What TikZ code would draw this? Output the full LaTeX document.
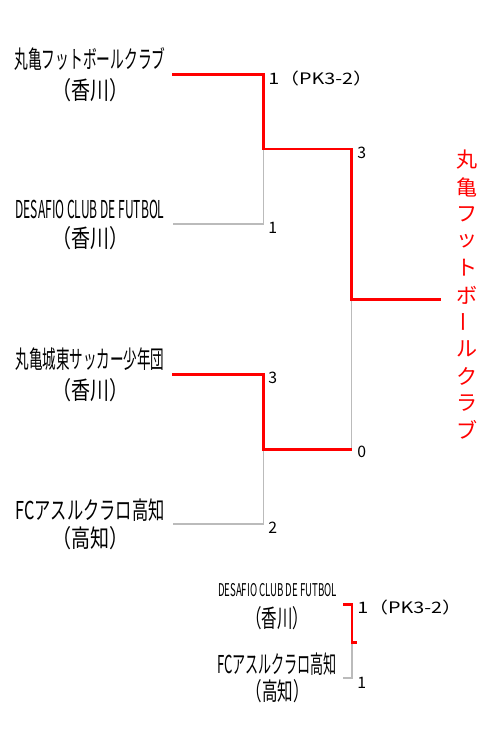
\documentclass[tikz,border=0pt]{standalone}
\usepackage{fontspec}
\usepackage{graphicx}
\setmainfont{Noto Sans CJK JP}
\definecolor{wonred}{HTML}{FF0000}
\definecolor{lostgray}{HTML}{BBBBBB}
\newlength{\px}
\setlength{\px}{0.02cm}
\newcommand{\squeeze}[2]{\resizebox{#1\px}{\height}{#2}}

\begin{document}
\begin{tikzpicture}[x=0.02cm, y=-0.02cm,
    team/.style={inner sep=0pt, font=\fontsize{14}{16}\selectfont},
    smallteam/.style={inner sep=0pt, font=\fontsize{10}{12}\selectfont},
    score/.style={inner sep=0pt, anchor=west, font=\fontsize{9}{11}\selectfont},
    won/.style={draw=wonred, line width=1.7pt},
    lost/.style={draw=lostgray, line width=1.1pt},
    winchar/.style={inner sep=0pt, text=wonred, font=\fontsize{12}{14}\selectfont}]

    \useasboundingbox (0,0) rectangle (500,750);

    % Teams
    \node[team] (t1) at (90,59) {\squeeze{151}{丸亀フットボールクラブ}};
    \node[team] (t1p) at (90,90) {\squeeze{76}{（香川）}};
    \node[team] (t2) at (90,209) {\squeeze{149}{DESAFIO CLUB DE FUTBOL}};
    \node[team] (t2p) at (90,238) {\squeeze{76}{（香川）}};
    \node[team] (t3) at (90,359) {\squeeze{149}{丸亀城東サッカー少年団}};
    \node[team] (t3p) at (90,390) {\squeeze{76}{（香川）}};
    \node[team] (t4) at (90,510) {\squeeze{149}{FCアスルクラロ高知}};
    \node[team] (t4p) at (90,538) {\squeeze{76}{（高知）}};

    % Bracket points
    \coordinate (r1) at (172,74.5);
    \coordinate (r1c) at (263.5,74.5);
    \coordinate (s1) at (263.5,149);
    \coordinate (r2c) at (263.5,224);
    \coordinate (r2) at (173,224);
    \coordinate (r3) at (172,374.5);
    \coordinate (r3c) at (263.5,374.5);
    \coordinate (s2) at (263.5,449.5);
    \coordinate (r4c) at (263.5,524);
    \coordinate (r4) at (173,524);
    \coordinate (f1) at (351.5,149);
    \coordinate (fm) at (351.5,299.5);
    \coordinate (f2) at (351.5,449.5);
    \coordinate (champ) at (441,299.5);

    % Losers
    \draw[lost] (s1) -- (r2c) -- (r2);
    \draw[lost] (s2) -- (r4c) -- (r4);
    \draw[lost] (fm) -- (f2);

    % Winners
    \draw[won] (r1) -- (r1c) -- (s1) -- (f1) -- (fm) -- (champ);
    \draw[won] (r3) -- (r3c) -- (s2) -- (f2);

    % Scores
    \node[score] (sc1) at (268,78) {\scalebox{1.25}[1]{1（PK3-2）}};
    \node[score] (sc2) at (268,228) {1};
    \node[score] (sc3) at (268,378) {3};
    \node[score] (sc4) at (268,528) {2};
    \node[score] (sc5) at (357,152.5) {3};
    \node[score] (sc6) at (357,452) {0};

    % Champion
    \foreach \ch/\rot [count=\i from 0] in {丸/0,亀/0,フ/0,ッ/0,ト/0,ボ/0,ー/90,ル/0,ク/0,ラ/0,ブ/0}
        \node[winchar, rotate=\rot] (win\i) at (467,160+27*\i) {\ch};

    % Third place
    \node[smallteam] (b1) at (277.5,590) {\squeeze{119}{DESAFIO CLUB DE FUTBOL}};
    \node[team] (b1p) at (277,618) {\squeeze{62}{（香川）}};
    \node[team] (b2) at (277,664) {\squeeze{120}{FCアスルクラロ高知}};
    \node[team] (b2p) at (277.5,691) {\squeeze{62}{（高知）}};

    \coordinate (p1) at (343,604);
    \coordinate (p1c) at (352,604);
    \coordinate (pm) at (352,642);
    \coordinate (pw) at (357,642);
    \coordinate (p2c) at (352,678);
    \coordinate (p2) at (343,678);
    \draw[lost] (pm) -- (p2c) -- (p2);
    \draw[won] (p1) -- (p1c) -- (pm) -- (pw);

    \node[score] (sc7) at (357,607.5) {\scalebox{1.25}[1]{1（PK3-2）}};
    \node[score] (sc8) at (357,682.5) {1};
\end{tikzpicture}
\end{document}
